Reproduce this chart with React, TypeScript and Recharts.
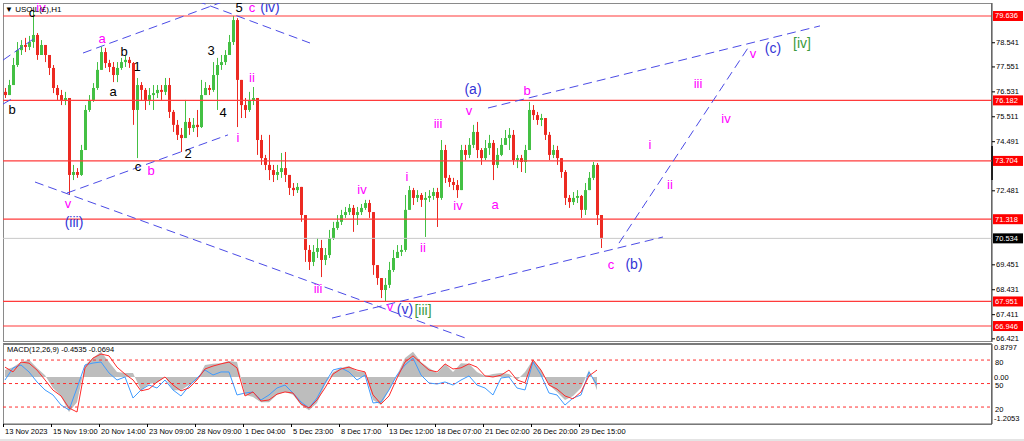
import React from 'react';
import { ComposedChart, Bar, XAxis, YAxis, ReferenceLine, Scatter, Line, Area } from 'recharts';

const opens = [76.53, 76.40, 76.81, 77.63, 78.24, 78.45, 78.37, 78.57, 78.86, 78.04,
  78.45, 78.04, 77.51, 76.69, 76.40, 76.20, 76.28, 73.13, 73.25, 73.13,
  74.15, 75.79, 76.20, 76.69, 77.43, 78.16, 77.71, 77.55, 77.22, 77.51,
  77.75, 77.84, 77.71, 75.79, 76.81, 76.61, 76.20, 76.40, 76.48, 76.61,
  76.53, 76.81, 75.71, 75.18, 74.77, 74.64, 75.30, 75.05, 75.18, 75.09,
  76.40, 76.69, 76.61, 77.22, 77.63, 77.75, 78.04, 78.57, 79.47, 77.02,
  75.99, 75.79, 76.20, 76.28, 74.56, 73.82, 73.54, 73.33, 73.13, 73.25,
  73.41, 73.13, 72.60, 72.51, 72.64, 71.49, 70.06, 69.57, 69.98, 70.14,
  69.65, 69.85, 70.55, 70.96, 71.21, 71.49, 71.61, 71.78, 71.49, 71.61,
  71.78, 71.98, 71.61, 69.44, 68.91, 68.42, 68.63, 69.24, 69.73, 69.98,
  70.06, 71.70, 72.51, 72.19, 72.31, 72.11, 72.19, 72.27, 72.43, 72.19,
  74.15, 73.01, 72.84, 72.72, 72.51, 74.15, 73.95, 74.36, 74.89, 74.15,
  73.82, 74.23, 74.44, 73.54, 73.95, 74.36, 74.64, 74.77, 73.74, 73.82,
  73.66, 74.15, 75.79, 75.58, 75.38, 75.46, 74.77, 73.95, 74.15, 73.82,
  73.25, 72.19, 72.02, 72.19, 72.27, 71.70, 72.51, 73.01, 73.54, 71.49];

const highs = [76.69, 77.02, 77.92, 78.57, 78.65, 78.74, 78.82, 79.80, 78.94, 78.65,
  78.45, 78.04, 77.63, 76.81, 76.61, 76.53, 76.28, 73.54, 73.41, 74.36,
  75.99, 76.40, 76.89, 77.75, 78.37, 78.33, 77.84, 77.75, 77.75, 77.92,
  78.00, 77.96, 77.75, 77.10, 76.93, 76.69, 76.69, 76.81, 76.81, 76.81,
  77.10, 77.10, 75.79, 75.38, 75.05, 76.20, 75.46, 75.46, 75.79, 77.02,
  76.93, 76.81, 77.75, 77.92, 78.04, 78.24, 78.86, 79.64, 79.55, 77.02,
  76.28, 76.53, 76.73, 76.28, 74.77, 73.95, 74.77, 73.54, 73.54, 74.03,
  74.07, 73.13, 72.80, 72.80, 72.64, 71.49, 70.26, 70.26, 70.55, 70.47,
  70.14, 70.88, 71.21, 71.49, 71.70, 71.82, 71.94, 71.90, 71.82, 71.94,
  72.11, 72.11, 71.61, 69.44, 68.91, 68.91, 69.57, 70.06, 70.26, 70.26,
  72.31, 72.68, 72.60, 72.51, 72.39, 72.43, 72.51, 72.60, 72.60, 74.56,
  74.36, 73.13, 73.01, 72.92, 74.36, 74.36, 74.64, 75.18, 75.30, 74.23,
  74.56, 74.77, 74.56, 74.23, 74.64, 74.97, 75.05, 74.97, 73.95, 73.95,
  74.36, 76.12, 75.99, 75.71, 75.63, 75.46, 74.89, 74.36, 74.32, 73.82,
  73.33, 72.31, 72.43, 72.51, 72.31, 72.80, 73.25, 73.66, 73.62, 71.49];

const lows = [76.28, 76.40, 76.81, 77.55, 78.04, 78.16, 78.24, 78.33, 77.84, 78.04,
  77.75, 77.22, 76.48, 76.20, 75.99, 75.99, 72.31, 72.92, 73.01, 73.09,
  74.15, 75.71, 76.12, 76.61, 77.43, 77.51, 77.34, 76.93, 76.93, 77.43,
  77.55, 77.51, 75.18, 73.82, 76.20, 75.79, 75.99, 75.79, 76.28, 76.20,
  76.40, 75.46, 74.89, 74.56, 74.07, 74.64, 74.77, 74.89, 74.68, 75.05,
  76.40, 76.40, 76.53, 75.79, 77.43, 77.63, 78.04, 78.45, 75.09, 75.46,
  75.46, 75.71, 75.99, 73.95, 73.54, 73.33, 72.92, 72.84, 72.92, 73.01,
  72.84, 72.31, 72.27, 72.39, 71.21, 69.57, 69.24, 69.40, 69.73, 68.95,
  69.44, 69.73, 70.47, 70.88, 71.08, 71.37, 71.49, 70.80, 71.08, 71.49,
  71.70, 71.37, 69.04, 68.63, 68.09, 67.97, 68.50, 69.16, 69.73, 69.81,
  69.98, 71.70, 71.90, 72.02, 71.82, 70.59, 72.02, 72.11, 71.00, 72.11,
  72.80, 72.64, 72.51, 72.19, 72.51, 73.74, 73.82, 74.23, 73.82, 73.54,
  73.74, 73.95, 72.92, 73.41, 73.90, 74.36, 74.15, 73.54, 73.41, 73.25,
  73.21, 74.15, 75.38, 75.18, 75.13, 74.56, 73.74, 73.82, 73.54, 73.01,
  71.90, 71.78, 71.90, 71.98, 71.37, 71.49, 72.51, 72.92, 71.08, 70.14];

const closes = [76.40, 76.81, 77.63, 78.24, 78.45, 78.37, 78.57, 78.86, 78.04, 78.45,
  78.04, 77.51, 76.69, 76.40, 76.20, 76.28, 73.13, 73.25, 73.13, 74.15,
  75.79, 76.20, 76.69, 77.43, 78.16, 77.71, 77.55, 77.22, 77.51, 77.75,
  77.84, 77.71, 75.79, 76.81, 76.61, 76.20, 76.40, 76.48, 76.61, 76.53,
  76.81, 75.71, 75.18, 74.77, 74.64, 75.30, 75.05, 75.18, 75.09, 76.40,
  76.69, 76.61, 77.22, 77.63, 77.75, 78.04, 78.57, 79.47, 77.02, 75.99,
  75.79, 76.20, 76.28, 74.56, 73.82, 73.54, 73.33, 73.13, 73.25, 73.41,
  73.13, 72.60, 72.51, 72.64, 71.49, 70.06, 69.57, 69.98, 70.14, 69.65,
  69.85, 70.55, 70.96, 71.21, 71.49, 71.61, 71.78, 71.49, 71.61, 71.78,
  71.98, 71.61, 69.44, 68.91, 68.42, 68.63, 69.24, 69.73, 69.98, 70.06,
  71.70, 72.51, 72.19, 72.31, 72.11, 72.19, 72.27, 72.43, 72.19, 74.15,
  73.01, 72.84, 72.72, 72.51, 74.15, 73.95, 74.36, 74.89, 74.15, 73.82,
  74.23, 74.44, 73.54, 73.95, 74.36, 74.64, 74.77, 73.74, 73.82, 73.66,
  74.15, 75.79, 75.58, 75.38, 75.46, 74.77, 73.95, 74.15, 73.82, 73.25,
  72.19, 72.02, 72.19, 72.27, 71.70, 72.51, 73.01, 73.54, 71.49, 70.53];

const macdHist = [0.19, 0.27, 0.41, 0.47, 0.25, 0.05, -0.30, -0.52, -0.96, -0.69,
  0.33, 0.52, 0.69, 0.41, 0.14, 0.11, 0.11, -0.36, -0.19, -0.16,
  0.00, -0.36, -0.36, -0.22, -0.08, 0.33, 0.36, 0.38, 0.44, 0.41,
  -0.49, -0.55, -0.69, -0.69, -0.49, -0.41, -0.49, -0.77, -0.91, -0.71,
  -0.22, 0.14, 0.25, 0.30, 0.16, 0.14, -0.63, -0.77, -0.36, 0.05,
  0.52, 0.69, 0.41, 0.25, 0.11, 0.36, 0.14, 0.38, 0.36, 0.14,
  0.03, 0.08, 0.11, 0.08, -0.08, 0.14, 0.47, 0.19, -0.22, -0.41,
  -0.63, -0.52, -0.30, 0.19, -0.36];

const macdSignal = [0.27, 0.14, 0.41, 0.38, 0.19, -0.08, -0.36, -0.52, -0.85, -0.96,
  0.25, 0.52, 0.63, 0.58, 0.27, 0.08, -0.08, -0.38, -0.33, -0.14,
  0.00, -0.22, -0.38, -0.30, -0.08, 0.22, 0.30, 0.36, 0.41, 0.25,
  -0.52, -0.41, -0.66, -0.63, -0.47, -0.41, -0.44, -0.74, -0.85, -0.63,
  -0.30, 0.08, 0.22, 0.27, 0.19, 0.14, -0.49, -0.74, -0.52, -0.03,
  0.41, 0.58, 0.38, 0.19, 0.14, 0.36, 0.22, 0.25, 0.36, 0.27,
  0.03, 0.00, 0.05, 0.19, -0.08, -0.16, 0.47, 0.19, -0.22, -0.33,
  -0.52, -0.60, -0.41, 0.03, 0.19];

const oscLine = [54.5, 69.9, 73.7, 64.8, 52.0, 41.8, 35.4, 22.6, 16.2, 44.3,
  73.7, 76.2, 77.5, 63.5, 54.5, 58.4, 31.5, 41.8, 48.1, 44.3,
  54.5, 41.8, 34.1, 46.9, 57.1, 67.3, 60.9, 64.8, 64.8, 35.4,
  37.9, 39.2, 29.0, 35.4, 44.3, 48.1, 37.9, 26.4, 18.8, 31.5,
  50.7, 67.3, 69.9, 64.8, 54.5, 60.9, 25.2, 26.4, 41.8, 60.9,
  73.7, 82.6, 60.9, 50.7, 49.4, 52.0, 48.1, 54.5, 59.7, 48.1,
  44.3, 35.4, 57.1, 58.4, 44.3, 41.8, 77.5, 60.9, 37.9, 35.4,
  22.6, 31.5, 35.4, 64.8, 48.1];

const levelLines = [79.636, 76.182, 73.704, 71.318, 67.951, 66.946];
const currentPrice = 70.534;
const priceTicks = [78.541, 77.551, 76.531, 75.511, 74.491, 72.481, 69.451, 68.431, 67.411, 66.421];
const macdTicks = [0.8797, 0, -1.2053];
const oscLevels = [80, 50, 20];

const timeLabels = ['13 Nov 2023', '15 Nov 19:00', '20 Nov 14:00', '23 Nov 09:00', '28 Nov 09:00', '1 Dec 04:00',
  '5 Dec 23:00', '8 Dec 17:00', '13 Dec 12:00', '18 Dec 07:00', '21 Dec 02:00', '26 Dec 20:00', '29 Dec 15:00'];
const timeTickIdx = [-0.5, 11.5, 23.5, 35.5, 47.5, 59.5, 71.5, 83.5, 95.5, 107.5, 119.5, 131.5, 143.5];

const trendLines = [
  [-0.5, 77.83, 7.5, 78.74],
  [-0.5, 76.03, 2.5, 76.32],
  [19.5, 78.12, 55, 80.25],
  [15.5, 72.39, 55.75, 74.77],
  [7.5, 72.84, 115, 66.46],
  [48, 80.25, 76.25, 78.53],
  [81.75, 67.27, 164.5, 70.59],
  [120.75, 75.87, 203.75, 79.23],
  [153.5, 70.34, 185.75, 78.33],
];

const MAG = '#FF00FF';
const BLK = '#000000';
const BLU = '#3434D6';
const GRN = '#3C9A3C';

const waveLabels = [
  { t: 'c', i: 6.75, p: 79.78, c: BLK, s: 13 },
  { t: 'iv', i: 9, p: 79.99, c: MAG, s: 13 },
  { t: 'a', i: 24.25, p: 78.73, c: MAG, s: 13 },
  { t: 'b', i: 29.75, p: 78.20, c: BLK, s: 13 },
  { t: '1', i: 33, p: 77.55, c: BLK, s: 13 },
  { t: 'a', i: 27, p: 76.53, c: BLK, s: 13 },
  { t: '3', i: 51.5, p: 78.24, c: BLK, s: 13 },
  { t: '4', i: 54.5, p: 75.67, c: BLK, s: 13 },
  { t: '2', i: 45.75, p: 73.99, c: BLK, s: 13 },
  { t: '5', i: 58.5, p: 79.99, c: BLK, s: 13 },
  { t: 'c', i: 61.75, p: 79.99, c: MAG, s: 13 },
  { t: '(iv)', i: 66.25, p: 79.99, c: BLU, s: 14 },
  { t: 'ii', i: 61.75, p: 77.10, c: MAG, s: 13 },
  { t: 'i', i: 58.25, p: 74.68, c: MAG, s: 13 },
  { t: 'b', i: 1.75, p: 75.79, c: BLK, s: 13 },
  { t: 'c', i: 33.25, p: 73.46, c: BLK, s: 13 },
  { t: 'b', i: 36.5, p: 73.33, c: MAG, s: 13 },
  { t: 'v', i: 15.75, p: 71.98, c: MAG, s: 13 },
  { t: '(iii)', i: 17.25, p: 71.20, c: BLU, s: 14 },
  { t: 'iv', i: 89.25, p: 72.55, c: MAG, s: 13 },
  { t: 'iii', i: 78.25, p: 68.50, c: MAG, s: 13 },
  { t: 'v', i: 96.25, p: 67.73, c: MAG, s: 13 },
  { t: '(v)', i: 100, p: 67.64, c: BLU, s: 14 },
  { t: '[iii]', i: 104.5, p: 67.60, c: GRN, s: 14 },
  { t: 'i', i: 100.5, p: 73.05, c: MAG, s: 13 },
  { t: 'ii', i: 104.5, p: 70.18, c: MAG, s: 13 },
  { t: 'iii', i: 108.25, p: 75.22, c: MAG, s: 13 },
  { t: 'iv', i: 113.25, p: 71.86, c: MAG, s: 13 },
  { t: 'v', i: 116, p: 75.75, c: MAG, s: 13 },
  { t: '(a)', i: 117, p: 76.65, c: BLU, s: 14 },
  { t: 'a', i: 122.5, p: 71.94, c: MAG, s: 13 },
  { t: 'b', i: 130.5, p: 76.57, c: MAG, s: 13 },
  { t: 'c', i: 151.5, p: 69.45, c: MAG, s: 13 },
  { t: '(b)', i: 157.25, p: 69.49, c: BLU, s: 14 },
  { t: 'i', i: 161.25, p: 74.36, c: MAG, s: 13 },
  { t: 'ii', i: 166.25, p: 72.72, c: MAG, s: 13 },
  { t: 'iii', i: 173.25, p: 76.89, c: MAG, s: 13 },
  { t: 'iv', i: 180.25, p: 75.46, c: MAG, s: 13 },
  { t: 'v', i: 187, p: 78.12, c: MAG, s: 13 },
  { t: '(c)', i: 192, p: 78.33, c: BLU, s: 14 },
  { t: '[iv]', i: 199.25, p: 78.53, c: GRN, s: 14 },
];

const FONT = 'Liberation Sans, Arial, sans-serif';

const candles = closes.map((c, i) => ({
  i,
  open: opens[i],
  high: highs[i],
  low: lows[i],
  close: c,
  range: [lows[i], highs[i]],
}));

const macdData = macdHist.map((h, j) => ({ i: j * 2, h, s: macdSignal[j], o: oscLine[j] }));

const Candle = (props: any) => {
  const { x, y, width, height, payload } = props;
  if (x == null || y == null || !payload) return null;
  const top = Math.min(y, y + height);
  const h = Math.abs(height);
  const { open, close, high, low } = payload;
  const span = high - low;
  const toY = (v: number) => (span > 0 ? top + ((high - v) / span) * h : top);
  const cx = Math.round(x + width / 2) + 0.5;
  const up = close >= open;
  const color = up ? '#44C044' : '#EC2A22';
  const yo = toY(open);
  const yc = toY(close);
  const bt = Math.min(yo, yc);
  const bh = Math.max(1, Math.abs(yc - yo));
  return (
    <g>
      <line x1={cx} x2={cx} y1={top} y2={top + h} stroke={color} strokeWidth={1} />
      <rect x={cx - 1.5} y={bt} width={3} height={bh} fill={color} />
    </g>
  );
};

const WaveLabel = (props: any) => {
  const { cx, cy, payload } = props;
  if (cx == null || cy == null) return null;
  return (
    <text x={cx} y={cy} textAnchor="middle" dominantBaseline="central" fill={payload.c}
      fontSize={payload.s} fontFamily={FONT}>{payload.t}</text>
  );
};

const PriceTick = (props: any) => {
  const { x, y, payload } = props;
  const v = payload.value;
  const isLevel = levelLines.includes(v);
  const isCur = v === currentPrice;
  const ax = x;
  if (isLevel || isCur) {
    return (
      <g>
        <rect x={ax + 1} y={y - 5} width={30} height={10} fill={isCur ? '#000' : '#FF0000'} />
        <text x={ax + 3} y={y} dominantBaseline="central" fill="#fff" fontSize={7.5} fontFamily={FONT}>{v.toFixed(3)}</text>
      </g>
    );
  }
  return (
    <g>
      <line x1={ax} x2={ax + 3} y1={y} y2={y} stroke="#000" />
      <text x={ax + 4} y={y} dominantBaseline="central" fill="#000" fontSize={7.5} fontFamily={FONT}>{v.toFixed(3)}</text>
    </g>
  );
};

const MacdTick = (props: any) => {
  const { x, y, payload } = props;
  const v = payload.value;
  const txt = v === 0 ? '0.00' : v.toFixed(4);
  const dy = v > 0.5 ? 3 : v < -0.5 ? -2 : 1;
  return (
    <text x={x + 2} y={y + dy} dominantBaseline="central" fill="#000" fontSize={7.5} fontFamily={FONT}>{txt}</text>
  );
};

const TimeTick = (props: any) => {
  const { x, y, index } = props;
  const label = timeLabels[index] ?? '';
  return (
    <g>
      <line x1={x + 0.5} x2={x + 0.5} y1={y} y2={y + 3} stroke="#000" />
      <text x={x + 2} y={y + 7} dominantBaseline="central" fill="#000" fontSize={7.5} fontFamily={FONT}>{label}</text>
    </g>
  );
};

const OscLabel = (props: any) => {
  const { viewBox, text } = props;
  if (!viewBox) return null;
  return (
    <text x={viewBox.x + viewBox.width + 3} y={viewBox.y + 2} dominantBaseline="central" fill="#000"
      fontSize={7.5} fontFamily={FONT}>{text}</text>
  );
};

const X_DOMAIN: [number, number] = [-0.5, 246.75];

export default function App() {
  return (
    <div style={{ position: 'absolute', left: 0, top: 0, width: 1024, height: 441, background: '#fff', overflow: 'hidden' }}>
      <div style={{ position: 'absolute', left: 3, top: 3, width: 989, height: 339, border: '1px solid #8a8a8a', boxSizing: 'border-box' }} />
      <div style={{ position: 'absolute', left: 3, top: 343, width: 989, height: 82, border: '1px solid #8a8a8a', borderTop: '2px solid #7a7a7a', boxSizing: 'border-box' }} />
      <div style={{ position: 'absolute', left: 991, top: 146, width: 2, height: 34, background: '#000' }} />
      <div style={{ position: 'absolute', left: 0, top: 439, width: 1024, height: 2, background: '#e4e4e4' }} />

      <div style={{ position: 'absolute', left: 0, top: 0 }}>
        <ComposedChart width={1024} height={441} data={candles} margin={{ top: 3, left: 3, right: 0, bottom: 99 }}>
          <XAxis type="number" dataKey="i" domain={X_DOMAIN} hide allowDataOverflow />
          <YAxis type="number" orientation="right" domain={[66.292, 80.168]} allowDataOverflow width={32}
            ticks={[...priceTicks, ...levelLines, currentPrice]} interval={0} tick={<PriceTick />}
            tickLine={false} tickSize={0} tickMargin={0} axisLine={{ stroke: '#444' }} />
          <ReferenceLine y={currentPrice} stroke="#C8C8C8" strokeWidth={1} ifOverflow="hidden" />
          <Bar dataKey="range" shape={<Candle />} barSize={3} isAnimationActive={false} />
          {levelLines.map((v) => (
            <ReferenceLine key={'lv' + v} y={v} stroke="#FF3B3B" strokeWidth={1.2} ifOverflow="hidden" />
          ))}
          {trendLines.map((t, k) => (
            <ReferenceLine key={'tl' + k} segment={[{ x: t[0], y: t[1] }, { x: t[2], y: t[3] }]}
              stroke="#4B4BE6" strokeWidth={1} strokeDasharray="9 5" ifOverflow="hidden" />
          ))}
          <Scatter data={waveLabels} dataKey="p" shape={<WaveLabel />} isAnimationActive={false} />
        </ComposedChart>
      </div>

      <div style={{ position: 'absolute', left: 0, top: 0 }}>
        <ComposedChart width={1024} height={441} data={macdData} margin={{ top: 344, left: 3, right: 0, bottom: 0 }}>
          <XAxis type="number" dataKey="i" domain={X_DOMAIN} allowDataOverflow height={17}
            ticks={timeTickIdx} interval={0} tick={<TimeTick />} tickLine={false} tickSize={0} tickMargin={0}
            axisLine={{ stroke: '#666' }} />
          <YAxis yAxisId="m" type="number" orientation="right" domain={[-1.289, 0.905]} allowDataOverflow width={32}
            ticks={macdTicks} interval={0} tick={<MacdTick />} tickLine={false} tickSize={0} tickMargin={0}
            axisLine={{ stroke: '#444' }} />
          <YAxis yAxisId="o" type="number" domain={[-1.66, 100.5]} allowDataOverflow hide />
          <Area yAxisId="m" dataKey="h" type="linear" baseValue={0} stroke="none" fill="#BDBDBD" fillOpacity={1}
            isAnimationActive={false} />
          {oscLevels.map((v) => (
            <ReferenceLine key={'ol' + v} yAxisId="o" y={v} stroke="#FF3030" strokeDasharray="3 3" strokeWidth={1}
              label={<OscLabel text={String(v)} />} />
          ))}
          <Line yAxisId="o" dataKey="o" type="linear" stroke="#3F9BFF" strokeWidth={1} dot={false} isAnimationActive={false} />
          <Line yAxisId="m" dataKey="s" type="linear" stroke="#FF2A2A" strokeWidth={1} dot={false} isAnimationActive={false} />
        </ComposedChart>
      </div>

      <div style={{ position: 'absolute', left: 5, top: 5, fontFamily: FONT, fontSize: 8, color: '#000', lineHeight: '10px' }}>
        ▼ USOIL(£),H1
      </div>
      <div style={{ position: 'absolute', left: 7, top: 345, fontFamily: FONT, fontSize: 7.5, color: '#000', lineHeight: '10px' }}>
        MACD(12,26,9) -0.4535 -0.0694
      </div>
    </div>
  );
}
